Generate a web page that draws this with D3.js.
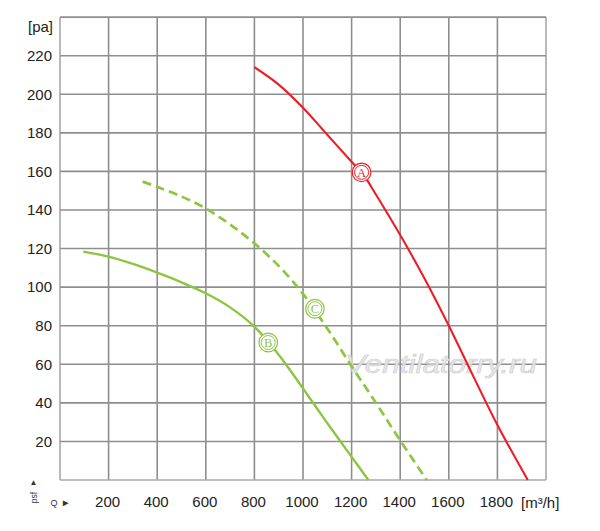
<!DOCTYPE html>
<html>
<head>
<meta charset="utf-8">
<script src="https://cdn.jsdelivr.net/npm/d3@7/dist/d3.min.js"></script>
<style>
  html, body { margin: 0; padding: 0; background: #fff; }
  svg { display: block; }
</style>
</head>
<body>
<svg id="chart" width="600" height="531"></svg>
<script>
// ---- data ----
const xTicks = [200, 400, 600, 800, 1000, 1200, 1400, 1600, 1800];
const yTicks = [20, 40, 60, 80, 100, 120, 140, 160, 180, 200, 220];
const xGrid = [0, 200, 400, 600, 800, 1000, 1200, 1400, 1600, 1800, 2000];
const yGrid = [0, 20, 40, 60, 80, 100, 120, 140, 160, 180, 200, 220, 240];

const curveA_Q = [800, 900, 1000, 1100, 1200, 1250, 1300, 1400, 1500, 1600, 1700, 1800, 1925];
const curveA_P = [214, 205, 193, 179, 165, 158, 148, 127, 104.5, 80, 54, 28.5, 0];

const curveB_Q = [96, 200, 300, 400, 500, 600, 700, 800, 900, 1000, 1100, 1200, 1269];
const curveB_P = [118.4, 115.8, 112, 107.5, 102.5, 96.8, 89.5, 79.5, 65, 47.5, 29.5, 12, 0];

const curveC_Q = [340, 400, 500, 600, 700, 800, 900, 1000, 1100, 1200, 1300, 1400, 1509];
const curveC_P = [154.7, 152, 147, 140.8, 132.5, 122.7, 111, 96.5, 78.5, 59, 40, 20.5, 0];

const markerNames = ["A", "B", "C"];
const markerQ = [1241, 857, 1049];
const markerP = [159.5, 71.3, 88.8];

// ---- setup ----
const svg = d3.select("#chart");
const x = d3.scaleLinear().domain([0, 2000]).range([60, 546]);
const y = d3.scaleLinear().domain([0, 240]).range([480, 17.1]);

const red = "#ee1c25";
const green = "#8cc63f";
const gridColor = "#8e8e8e";
const font = "'Liberation Sans', Arial, Helvetica, sans-serif";

// grid
svg.append("g").selectAll("line").data(xGrid).join("line")
  .attr("x1", d => x(d)).attr("x2", d => x(d))
  .attr("y1", y(0)).attr("y2", y(240))
  .attr("stroke", d => (d === 0 || d === 2000) ? "#a8a8a8" : gridColor)
  .attr("stroke-width", 1.6);
svg.append("g").selectAll("line").data(yGrid).join("line")
  .attr("x1", x(0)).attr("x2", x(2000))
  .attr("y1", d => y(d)).attr("y2", d => y(d))
  .attr("stroke", d => (d === 0) ? "#a8a8a8" : gridColor)
  .attr("stroke-width", 1.6);

// axes (labels only)
const xAxis = svg.append("g")
  .attr("transform", `translate(-1.5, ${y(0)})`)
  .call(d3.axisBottom(x).tickValues(xTicks).tickSize(0).tickPadding(16).tickFormat(d3.format("d")));
xAxis.select(".domain").remove();
xAxis.selectAll("text").attr("font-size", 15).attr("font-family", font).attr("fill", "#222");

const yAxis = svg.append("g")
  .attr("transform", `translate(52, 0)`)
  .call(d3.axisLeft(y).tickValues(yTicks).tickSize(0).tickPadding(0).tickFormat(d3.format("d")));
yAxis.select(".domain").remove();
yAxis.selectAll("text").attr("font-size", 15).attr("font-family", font).attr("fill", "#222");

// unit labels
svg.append("text").attr("x", 53).attr("y", 32).attr("text-anchor", "end")
  .attr("font-size", 15).attr("font-family", font).attr("fill", "#222").text("[pa]");
svg.append("text").attr("x", 521).attr("y", 508).attr("text-anchor", "start")
  .attr("font-size", 15).attr("font-family", font).attr("fill", "#222").text("[m³/h]");

// small corner labels
svg.append("text").attr("x", 33.5).attr("y", 485).attr("text-anchor", "middle")
  .attr("font-size", 8).attr("font-family", font).attr("fill", "#333").text("▲");
svg.append("text").attr("transform", "translate(36.5, 497.5) rotate(-90)")
  .attr("text-anchor", "middle").attr("font-size", 8.5).attr("font-family", font).attr("fill", "#333").text("psf");
svg.append("text").attr("x", 50.5).attr("y", 506)
  .attr("font-size", 9).attr("font-family", font).attr("fill", "#333").text("Q");
svg.append("text").attr("x", 61).attr("y", 506)
  .attr("font-size", 9.5).attr("font-family", font).attr("fill", "#333").text("►");

// watermark
svg.append("text").attr("x", 345).attr("y", 373)
  .attr("font-size", 25).attr("font-style", "italic").attr("font-family", font)
  .attr("textLength", 192).attr("lengthAdjust", "spacingAndGlyphs")
  .attr("fill", "#e6e6e6").attr("stroke", "#cccccc").attr("stroke-width", 0.6)
  .attr("fill-opacity", 0.85)
  .text("Ventilatorry.ru");

// curves
const line = d3.line().x(d => x(d[0])).y(d => y(d[1])).curve(d3.curveCatmullRom.alpha(0.5));
const zip = (a, b) => a.map((v, i) => [v, b[i]]);

svg.append("path").datum(zip(curveB_Q, curveB_P)).attr("d", line)
  .attr("fill", "none").attr("stroke", green).attr("stroke-width", 2.4);
svg.append("path").datum(zip(curveC_Q, curveC_P)).attr("d", line)
  .attr("fill", "none").attr("stroke", green).attr("stroke-width", 2.7)
  .attr("stroke-dasharray", "9,5");
svg.append("path").datum(zip(curveA_Q, curveA_P)).attr("d", line)
  .attr("fill", "none").attr("stroke", red).attr("stroke-width", 2.1);

// markers
const mColors = [red, green, green];
const mg = svg.append("g").selectAll("g").data(markerNames).join("g")
  .attr("transform", (d, i) => `translate(${x(markerQ[i])}, ${y(markerP[i])})`);
mg.append("circle").attr("r", 9.3).attr("fill", "#fff")
  .attr("stroke", (d, i) => mColors[i]).attr("stroke-width", 1.2);
mg.append("circle").attr("r", 7).attr("fill", "none")
  .attr("stroke", (d, i) => mColors[i]).attr("stroke-width", 1);
mg.append("text").attr("text-anchor", "middle").attr("dy", "0.36em")
  .attr("font-size", 12.5).attr("font-family", "'Liberation Serif', 'Times New Roman', serif")
  .attr("fill", (d, i) => mColors[i]).text(d => d);
</script>
</body>
</html>
